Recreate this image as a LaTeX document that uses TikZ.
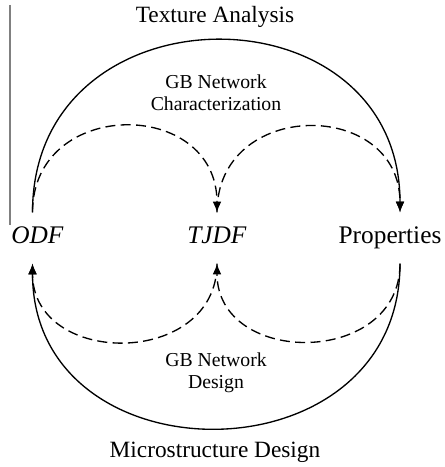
\documentclass[tikz,border=0pt]{standalone}
\usepackage{fontspec}
\setmainfont{Liberation Serif}
\usetikzlibrary{arrows.meta}

\begin{document}
\begin{tikzpicture}[x=0.75pt,y=0.75pt,
    state/.style={inner sep=9.8pt,text height=13pt,text depth=5.4pt,font=\fontsize{19}{22}\selectfont},
    title/.style={font=\fontsize{17.5}{21}\selectfont},
    note/.style={align=center,font=\fontsize{14.8}{16.5}\selectfont},
    flow/.style={line width=1pt,-{Latex[length=8pt,width=6.5pt]}},
    dflow/.style={flow,dash pattern=on 7.5pt off 4pt}]
  \useasboundingbox (0,0) rectangle (444,467);
  \draw[gray,line width=1.5pt] (9.5,462) -- (9.5,242);
  \node[state] (odf) at (37.5,229) {\textit{ODF}};
  \node[state] (tjdf) at (217,229) {\textit{TJDF}};
  \node[state] (props) at (390,229) {Properties};
  \node[title] (ta) at (215,450) {Texture Analysis};
  \node[title] (md) at (215,15) {Microstructure Design};
  \node[note] (gbc) at (216,374) {GB Network\\Characterization};
  \node[note] (gbd) at (216,94) {GB Network\\Design};
  % solid outer loop
  \draw[flow] ([xshift=-3.75pt]odf.north) to[out=90,in=90,looseness=1.6] ([xshift=7.5pt]props.north);
  \draw[flow] ([xshift=7.5pt]props.south) to[out=-90,in=-90,looseness=1.53] ([xshift=-3.75pt]odf.south);
  % dashed inner loops
  \draw[dflow] ([xshift=-3.75pt]odf.north) to[out=90,in=90,looseness=1.6] (tjdf.north);
  \draw[dflow] (tjdf.north) to[out=90,in=90,looseness=1.6] ([xshift=7.5pt]props.north);
  \draw[dflow] ([xshift=7.5pt]props.south) to[out=-90,in=-90,looseness=1.45] (tjdf.south);
  \draw[dflow] (tjdf.south) to[out=-90,in=-90,looseness=1.45] ([xshift=-3.75pt]odf.south);
\end{tikzpicture}
\end{document}
